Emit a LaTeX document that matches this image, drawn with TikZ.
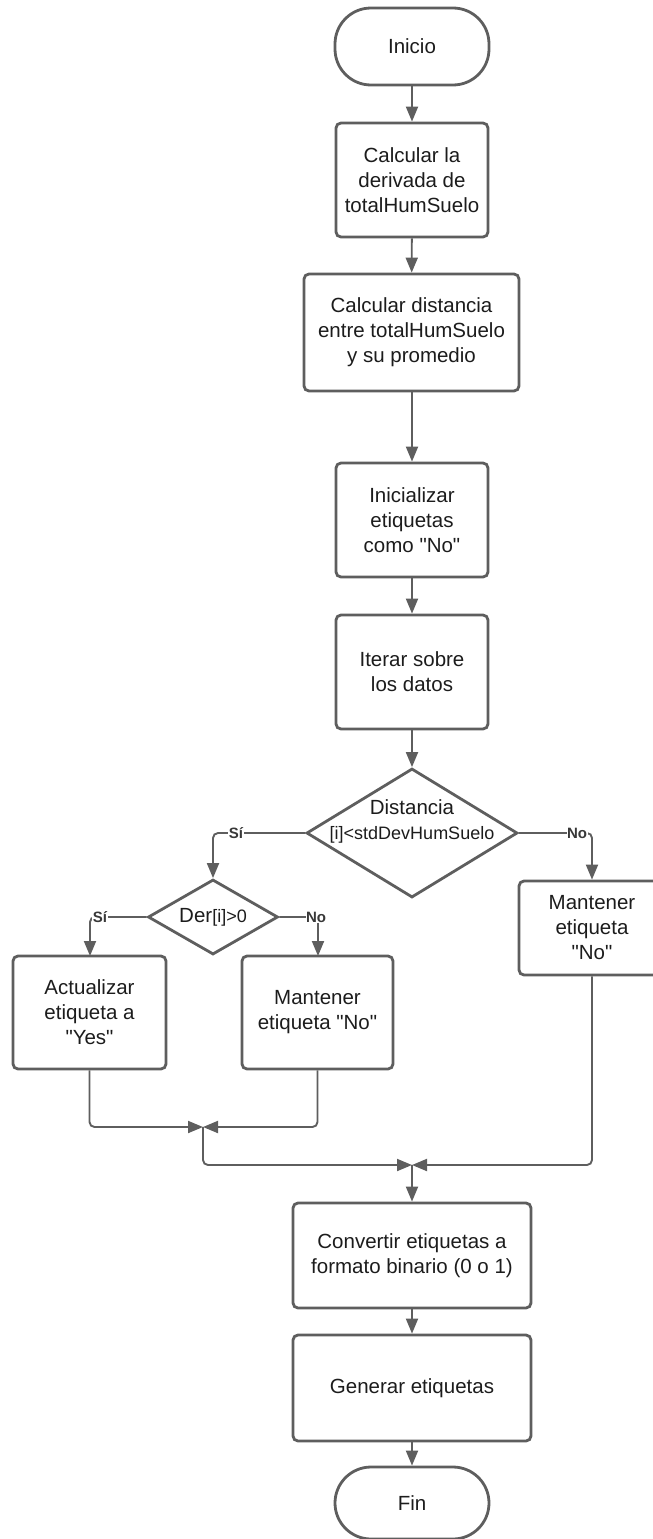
\documentclass[tikz,border=0pt]{standalone}
\usepackage{fontspec}
\setmainfont{Liberation Sans}
\usetikzlibrary{shapes.geometric,arrows.meta}
\definecolor{lc}{RGB}{94,94,94}
\definecolor{txt}{RGB}{28,28,28}
\newcommand{\bigtxt}{\fontsize{20.5}{25}\selectfont}
\newcommand{\midtxt}{\fontsize{18}{22}\selectfont}
\newcommand{\labtxt}{\fontsize{15}{18}\selectfont\bfseries}
\newcommand{\qd}{\textquotedbl}
\tikzset{
  proc/.style={draw=lc, line width=2.8pt, rounded corners=5pt, align=center, font=\bigtxt, text=txt, inner sep=0pt},
  term/.style={draw=lc, line width=2.8pt, rounded corners=36pt, align=center, font=\bigtxt, text=txt, inner sep=0pt, minimum width=154pt},
  dec/.style={diamond, draw=lc, line width=2.8pt, inner sep=0pt, text=txt},
  conn/.style={draw=lc, line width=1.9pt, rounded corners=5pt, -{Triangle[length=15pt,width=12pt]}},
  lab/.style={fill=white, font=\labtxt, text=lc!60!black, inner sep=0.5pt},
  txtnode/.style={align=center, text=txt, inner sep=0pt, font=\bigtxt}
}
\begin{document}
\begin{tikzpicture}[x=1pt,y=-1pt]
\useasboundingbox (0,0) rectangle (653,1539);
% nodes
\node[term, minimum height=77pt] (inicio) at (412,46.5) {Inicio};
\node[proc, minimum width=152pt, minimum height=114pt] (b1) at (412,180) {Calcular la\\derivada de\\totalHumSuelo};
\node[proc, minimum width=215pt, minimum height=117pt] (b2) at (411.5,332.5) {Calcular distancia\\entre totalHumSuelo\\y su promedio};
\node[proc, minimum width=152pt, minimum height=114pt] (b3) at (412,520) {Inicializar\\etiquetas\\como \qd No\qd};
\node[proc, minimum width=152pt, minimum height=114pt] (b4) at (412,672) {Iterar sobre\\los datos};
\node[dec, minimum width=211pt, minimum height=129pt] (d1) at (412,833) {};
\node[txtnode] (d1t) at (412,821) {Distancia\\{\midtxt [i]<stdDevHumSuelo}};
\node[dec, minimum width=130pt, minimum height=75pt] (d2) at (213,917) {};
\node[txtnode] (d2t) at (213,917) {Der{\midtxt [i]>0}};
\node[proc, minimum width=153pt, minimum height=113pt] (yb) at (89.5,1012.5) {Actualizar\\etiqueta a\\\qd Yes\qd};
\node[proc, minimum width=151pt, minimum height=113pt] (nb) at (317.5,1012.5) {Mantener\\etiqueta \qd No\qd};
\node[proc, minimum width=146pt, minimum height=94pt] (rb) at (592,928) {Mantener\\etiqueta\\\qd No\qd};
\node[proc, minimum width=238pt, minimum height=105pt] (cv) at (412,1255.5) {Convertir etiquetas a\\formato binario (0 o 1)};
\node[proc, minimum width=238pt, minimum height=106pt] (gen) at (412,1388) {Generar etiquetas};
\node[term, minimum height=72pt] (fin) at (412,1503) {Fin};
% merge points
\coordinate (m1) at (203,1127);
\coordinate (m2) at (412,1165);
% connectors
\draw[conn] (inicio) -- (b1);
\draw[conn] (b1) -- (b2);
\draw[conn] (b2.south -| b3.north) -- (b3);
\draw[conn] (b3) -- (b4);
\draw[conn] (b4) -- (d1.north);
\draw[conn] (d1.west) -- (213,833) -- (d2.north);
\draw[conn] (d1.east) -- (592,833) -- (rb.north);
\draw[conn] (d2.west) -- (90,917) -- (90,956);
\draw[conn] (d2.east) -- (318,917) -- (318,956);
\draw[conn] (yb.south) -- (89.5,1127) -- (m1);
\draw[conn] (nb.south) -- (317.5,1127) -- (m1);
\draw[conn] (m1) -- (203,1165) -- (m2);
\draw[conn] (rb.south) -- (592,1165) -- (m2);
\draw[conn] (m2) -- (cv.north);
\draw[conn] (cv) -- (gen);
\draw[conn] (gen) -- (fin);
% labels
\node[lab] (l1) at (236,833) {Sí};
\node[lab] (l2) at (577,833) {No};
\node[lab] (l3) at (100,917) {Sí};
\node[lab] (l4) at (316,917) {No};
\end{tikzpicture}
\end{document}
